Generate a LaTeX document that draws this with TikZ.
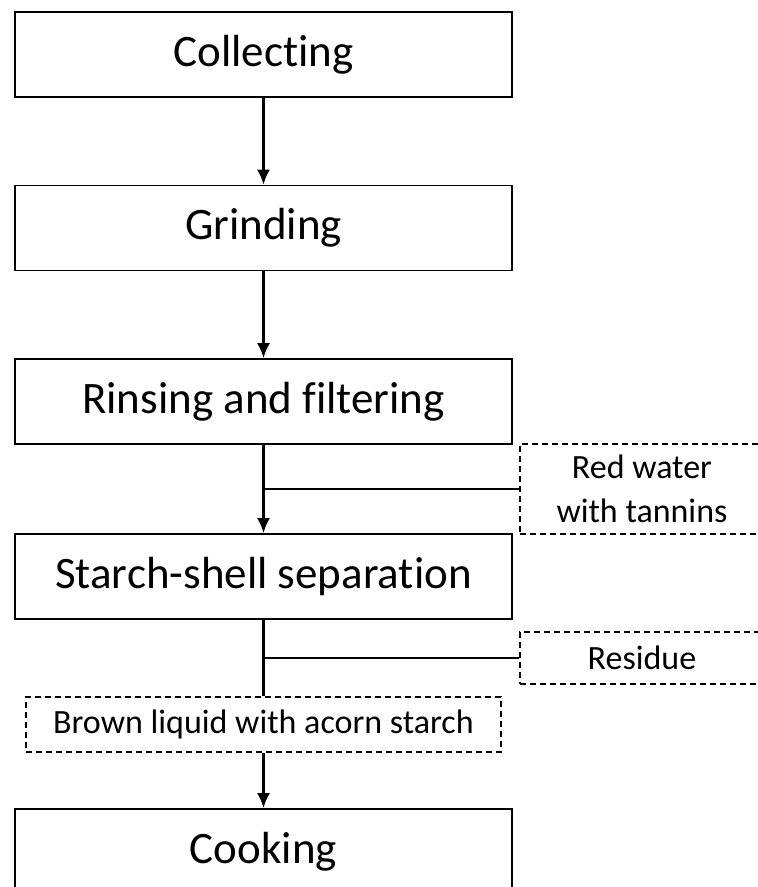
\documentclass[tikz,border=0pt]{standalone}
\usepackage{fontspec}
\setmainfont[Ligatures=NoCommon]{Carlito}
\usetikzlibrary{arrows.meta}
\begin{document}
\begin{tikzpicture}[x=1pt, y=-1pt, > = {Latex[length=15pt, width=13pt]},
    stepbox/.style={draw, line width=1.7pt, minimum width=497pt, minimum height=85pt, inner sep=0pt, font=\fontsize{45}{50}\selectfont},
    outbox/.style={draw, line width=1.4pt, dash pattern=on 6pt off 4pt, inner sep=0pt, align=center, font=\fontsize{34}{44}\selectfont},
    flow/.style={line width=2.3pt}]
    \useasboundingbox (0,0) rectangle (758,887);

    \node[stepbox] (collect) at (263.5, 54.5) {Collecting};
    \node[stepbox] (grind) at (263.5, 228) {Grinding};
    \node[stepbox] (rinse) at (263.5, 401.5) {Rinsing and filtering};
    \node[stepbox] (separ) at (263.5, 576.5) {Starch-shell separation};
    \node[stepbox] (cook) at (263.5, 851.5) {Cooking};

    \node[outbox, minimum width=244pt, minimum height=90pt] (redw) at (642, 489) {Red water\\with tannins};
    \node[outbox, minimum width=244pt, minimum height=52pt] (resid) at (642, 658) {Residue};
    \node[outbox, minimum width=475pt, minimum height=55pt] (brown) at (263.5, 724.5) {Brown liquid with acorn starch};

    \draw[flow, ->] (collect) -- (grind);
    \draw[flow, ->] (grind) -- (rinse);
    \draw[flow, ->] (rinse) -- (separ);
    \draw[flow] (redw.west) -- (redw.west -| rinse.south);
    \draw[flow] (separ) -- (brown);
    \draw[flow] (resid.west) -- (resid.west -| separ.south);
    \draw[flow, ->] (brown) -- (cook);
\end{tikzpicture}
\end{document}
